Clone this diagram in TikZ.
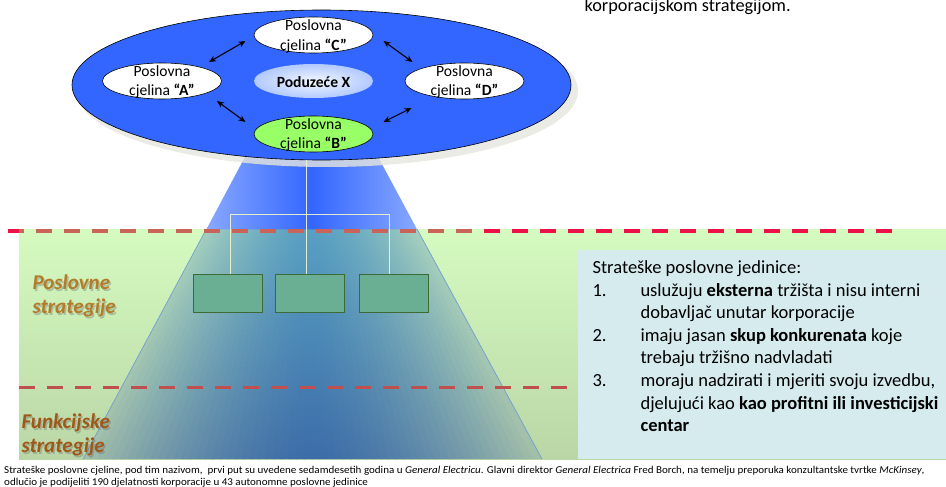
\documentclass[tikz,border=0pt]{standalone}
\usepackage{fontspec}
\setmainfont{Carlito}
\usetikzlibrary{shapes.geometric,arrows.meta,calc}

\definecolor{platter}{HTML}{3366FF}
\definecolor{platshadow}{HTML}{E6E6DE}
\definecolor{unitgreen}{HTML}{99FF66}
\definecolor{bandtop}{HTML}{D5FBC0}
\definecolor{bandbot}{HTML}{BAD6A6}
\definecolor{beamside}{HTML}{88A8FF}
\definecolor{beamrim}{HTML}{6FA0D0}
\definecolor{glowTC}{RGB}{88,160,195}
\definecolor{glowTE}{RGB}{165,208,190}
\definecolor{glowBC}{RGB}{60,108,168}
\definecolor{glowBE}{RGB}{165,192,168}
\definecolor{sbufill}{HTML}{6AAF94}
\definecolor{sbudraw}{HTML}{3E6B35}
\definecolor{infobg}{HTML}{D6EBEE}
\definecolor{dashred}{HTML}{EE1148}
\definecolor{dashmute}{HTML}{C8645A}
\definecolor{dashlow}{HTML}{C0504D}
\definecolor{buslabel}{HTML}{B47B2A}
\definecolor{funlabel}{HTML}{A0581A}
\definecolor{linkcol}{HTML}{F2F7D0}
\definecolor{hubin}{HTML}{F2F7FF}
\definecolor{hubmid}{HTML}{B0C8FF}
\definecolor{hubout}{HTML}{4A78F0}

\pgfdeclareradialshading{hubshade}{\pgfpoint{0bp}{0bp}}%
  {color(0bp)=(hubin); color(26bp)=(hubmid); color(50bp)=(hubout)}

\begin{document}
\begin{tikzpicture}[x=1pt,y=-1pt,
  unitell/.style={ellipse, draw=black, line width=0.6pt, minimum width=119pt,
    minimum height=36pt, inner sep=0pt},
  unittext/.style={align=center, font=\fontsize{15.6}{19.5}\selectfont},
  pairarrow/.style={<->, >={Stealth[length=7pt,width=6pt]}, line width=1.1pt},
  sbu/.style={draw=sbudraw, fill=sbufill, line width=0.8pt, minimum width=69pt,
    minimum height=38pt, inner sep=0pt},
  linkline/.style={draw=linkcol, line width=1pt, opacity=.9},
  levellabel/.style={font=\fontsize{21}{24}\selectfont\bfseries\itshape,
    align=left, anchor=base west},
  reddash/.style={line width=3.6pt, dash pattern=on 16pt off 12pt},
  infotext/.style={font=\fontsize{18.5}{22.6}\selectfont, anchor=base west}]

\useasboundingbox (0,0) rectangle (946,487);
\clip (0,0) rectangle (946,487);

% green band of business strategies
\shade[top color=bandtop, bottom color=bandbot] (19,229) rectangle (946,459);

% light cone inside the band, built from thin shaded wedges
\begin{scope}
  \clip (206.4,229) -- (417,229) -- (542,459) -- (83,459) -- cycle;
  \foreach \i in {0,...,59}{
    \pgfmathsetmacro\xa{83+7.65*\i-1.2}
    \pgfmathsetmacro\xb{83+7.65*(\i+1)+1.2}
    \pgfmathsetmacro\u{abs((83+7.65*(\i+0.5)-312.5)/229.5)}
    \pgfmathsetmacro\w{100*(1-\u^1.5)}
    \pgfmathsetmacro\xat{311+(\xa-311)*0.458824}
    \pgfmathsetmacro\xbt{311+(\xb-311)*0.458824}
    \shade[top color=glowTC!\w!glowTE, bottom color=glowBC!\w!glowBE]
      (\xat,229) -- (\xbt,229) -- (\xb,459) -- (\xa,459) -- cycle;
  }
\end{scope}
\draw[beamrim, line width=0.7pt] (206.4,229) -- (83,459) (417,229) -- (542,459);

% cone above the band
\shade[left color=beamside, right color=beamside, middle color=platter]
  (254,140) -- (369,140) -- (417,229.3) -- (206.4,229.3) -- cycle;

% corporate platter
\fill[platshadow, opacity=.8] (327,91) ellipse (251 and 76);
\node[ellipse, draw=black, line width=0.6pt, fill=platter, minimum width=499pt,
  minimum height=150pt, inner sep=0pt] (platter) at (321.5,85) {};

\node[unitell, fill=white] (C) at (313.5,35) {};
\node[unitell, fill=white] (A) at (162,81) {};
\node[unitell, fill=white] (D) at (464.5,81) {};
\node[unitell, fill=unitgreen] (B) at (313.5,134) {};
\node[ellipse, shade, shading=hubshade, minimum width=119pt, minimum height=34pt,
  inner sep=0pt] (hub) at (313.5,81) {};

\node[unittext] (Ct) at ([shift={(0,1.5)}]C) {Poslovna\\cjelina \textbf{“C”}};
\node[unittext] (At) at ([shift={(0,1)}]A) {Poslovna\\cjelina \textbf{“A”}};
\node[unittext] (Dt) at ([shift={(0,1)}]D) {Poslovna\\cjelina \textbf{“D”}};
\node[unittext] (Bt) at ([shift={(0,1)}]B) {Poslovna\\cjelina \textbf{“B”}};
\node[font=\fontsize{15.6}{19}\selectfont\bfseries] (hubt) at ([shift={(0,1)}]hub) {Poduzeće X};

\draw[pairarrow] ([shift={(47,-19)}]A.center) -- ([shift={(-68,6)}]C.center);
\draw[pairarrow] ([shift={(70,6)}]C.center) -- ([shift={(-52,-19)}]D.center);
\draw[pairarrow] ([shift={(55,20)}]A.center) -- ([shift={(-68,-12)}]B.center);
\draw[pairarrow] ([shift={(70,-12)}]B.center) -- ([shift={(-53,27)}]D.center);

% strategic business units
\node[sbu] (sbuA) at (227.5,293) {};
\node[sbu] (sbuB) at (310,293) {};
\node[sbu] (sbuC) at (393.5,293) {};

\coordinate (trunk) at (306.5,160);
\coordinate (forkL) at (230.7,214);
\coordinate (forkR) at (389.3,214);
\draw[linkline] (trunk) -- (trunk |- sbuB.north);
\draw[linkline] (sbuA.north -| forkL) -- (forkL) -- (forkR) -- (sbuC.north -| forkR);

% level separators
\draw[reddash, dashred] (8,231) -- (892,231);
\draw[reddash, dashmute, dash phase=11pt] (19,231) -- (472,231);
\draw[reddash, dashlow] (19,387.5) -- (567,387.5);

% level labels (baseline given for the last line)
\node[levellabel, text=black!60, opacity=.35] at (30.5,315) {Poslovne\\strategije};
\node[levellabel, text=buslabel] (lblBus) at (29,313.5) {Poslovne\\strategije};
\node[levellabel, text=black!60, opacity=.35] at (19.5,454) {Funkcijske\\strategije};
\node[levellabel, text=funlabel] (lblFun) at (18,452.5) {Funkcijske\\strategije};

% description of SBUs
\node[fill=infobg, anchor=north west, minimum width=368pt, minimum height=209pt,
  inner sep=0pt] (info) at (578,250) {};
\node[infotext] (infot) at (589,273.5) {%
  \begin{tabular}[t]{@{}p{48pt}@{}l@{}}
  \multicolumn{2}{@{}l@{}}{Strateške poslovne jedinice:}\\
  1. & uslužuju \textbf{eksterna} tržišta i nisu interni\\
     & dobavljač unutar korporacije\\
  2. & imaju jasan \textbf{skup konkurenata} koje\\
     & trebaju tržišno nadvladati\\
  3. & moraju nadzirati i mjeriti svoju izvedbu,\\
     & djelujući kao \textbf{kao profitni ili investicijski}\\
     & \textbf{centar}
  \end{tabular}};

% text above
\node[anchor=base west, font=\fontsize{18.3}{22}\selectfont] (corp) at (581,12)
  {korporacijskom strategijom.};

% footnote (baseline given for the last line)
\node[anchor=base west, align=left, font=\fontsize{10.5}{12}\selectfont, inner sep=0pt]
  (note) at (4,485.5) {\scalebox{1.05}[1]{\begin{tabular}[b]{@{}l@{}}Strateške poslovne cjeline,
  pod tim nazivom,\ \ prvi put su uvedene sedamdesetih godina u \textit{General Electricu}.
  Glavni direktor \textit{General Electrica} Fred Borch, na temelju preporuka konzultantske
  tvrtke \textit{McKinsey},\\
  odlučio je podijeliti 190 djelatnosti korporacije u 43 autonomne poslovne jedinice
  \end{tabular}}};
\end{tikzpicture}
\end{document}
